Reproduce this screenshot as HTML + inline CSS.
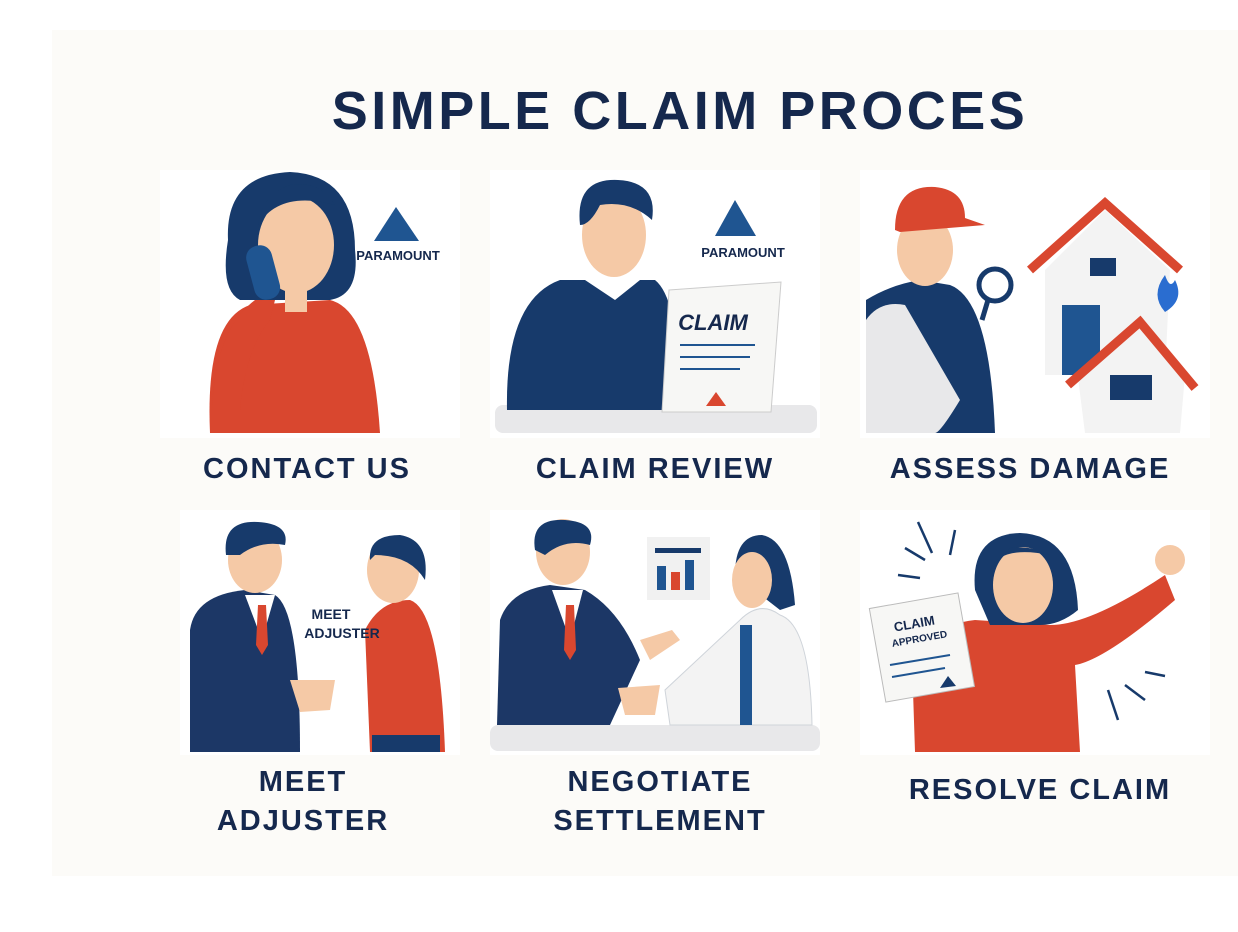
<!DOCTYPE html>
<html><head><style>
html,body{margin:0;padding:0;background:#fff;}
svg{display:block}
text{font-family:"Liberation Sans",sans-serif;font-weight:bold;fill:#15284d}
.l{letter-spacing:2px}
</style></head><body>
<svg width="1238" height="932" viewBox="0 0 1238 932" xmlns="http://www.w3.org/2000/svg">
<rect x="52" y="30" width="1186" height="846" fill="#fcfbf8"/>
<rect x="160" y="170" width="300" height="268" fill="#fff"/>
<rect x="490" y="170" width="330" height="268" fill="#fff"/>
<rect x="860" y="170" width="350" height="268" fill="#fff"/>
<rect x="180" y="510" width="280" height="245" fill="#fff"/>
<rect x="490" y="510" width="330" height="245" fill="#fff"/>
<rect x="860" y="510" width="350" height="245" fill="#fff"/>
<text x="680" y="129" font-size="54" text-anchor="middle" letter-spacing="3.5">SIMPLE CLAIM PROCES</text>

<!-- Panel 1 -->
<path d="M210 433 Q205 320 250 305 L330 300 Q372 310 380 433Z" fill="#d9472f"/>
<path d="M228 240 Q225 175 290 172 Q355 175 355 250 Q360 295 330 300 L240 300 Q220 290 228 240Z" fill="#173a6b"/>
<ellipse cx="296" cy="245" rx="38" ry="48" fill="#f5c9a6"/>
<path d="M258 225 Q280 190 335 205 Q320 180 290 185 Q262 195 258 225Z" fill="#173a6b"/>
<rect x="285" y="290" width="22" height="22" fill="#f5c9a6"/>
<rect x="250" y="245" width="26" height="55" rx="12" fill="#1f5591" transform="rotate(-15 263 272)"/>
<path d="M212 410 Q215 330 255 300 L275 300 L270 320 Q245 350 240 410Z" fill="#d9472f"/>
<polygon points="396,207 374,241 419,241" fill="#1f5591"/>
<text x="398" y="260" font-size="13" text-anchor="middle" font-weight="normal">PARAMOUNT</text>
<text x="307" y="478" font-size="29" text-anchor="middle" class="l">CONTACT US</text>

<!-- Panel 2 -->
<rect x="495" y="405" width="322" height="28" rx="8" fill="#e8e8ea"/>
<path d="M507 410 Q505 300 560 280 L655 280 Q680 300 680 410Z" fill="#173a6b"/>
<path d="M585 280 L615 300 L640 280Z" fill="#fff"/>
<ellipse cx="614" cy="235" rx="32" ry="42" fill="#f5c9a6"/>
<path d="M580 225 Q575 178 618 180 Q658 182 652 220 Q630 200 600 205 Q590 225 580 225Z" fill="#173a6b"/>
<polygon points="669,290 781,282 771,412 662,412" fill="#f7f7f5" stroke="#ccc"/>
<text x="713" y="330" font-size="22" text-anchor="middle" font-style="italic">CLAIM</text>
<line x1="680" y1="345" x2="755" y2="345" stroke="#1f5591" stroke-width="2"/>
<line x1="680" y1="357" x2="750" y2="357" stroke="#1f5591" stroke-width="2"/>
<line x1="680" y1="369" x2="740" y2="369" stroke="#1f5591" stroke-width="2"/>
<polygon points="716,392 706,406 726,406" fill="#d9472f"/>
<polygon points="735,200 715,236 756,236" fill="#1f5591"/>
<text x="743" y="257" font-size="13" text-anchor="middle" font-weight="normal">PARAMOUNT</text>
<text x="655" y="478" font-size="29" text-anchor="middle" class="l">CLAIM REVIEW</text>

<!-- Panel 3 -->
<path d="M866 433 L866 300 Q890 285 920 280 L950 285 Q990 300 995 433Z" fill="#173a6b"/>
<path d="M866 433 L866 320 Q880 300 905 305 L960 400 Q940 433 935 433Z" fill="#e8e8ea"/>
<ellipse cx="925" cy="250" rx="28" ry="36" fill="#f5c9a6"/>
<path d="M895 230 Q895 185 935 187 Q965 190 965 218 L985 225 L900 232Z" fill="#d9472f"/>
<circle cx="995" cy="285" r="16" fill="#fff" stroke="#173a6b" stroke-width="5"/>
<line x1="988" y1="300" x2="982" y2="320" stroke="#173a6b" stroke-width="5"/>
<path d="M1045 270 L1105 210 L1170 270 L1165 375 L1045 375Z" fill="#f3f3f3"/>
<path d="M1030 270 L1105 203 L1180 270" fill="none" stroke="#d9472f" stroke-width="9"/>
<rect x="1062" y="305" width="38" height="70" fill="#1f5591"/>
<rect x="1090" y="258" width="26" height="18" fill="#173a6b"/>
<path d="M1078 378 L1140 330 L1185 375 L1180 433 L1085 433Z" fill="#f3f3f3"/>
<path d="M1068 385 L1140 322 L1195 388" fill="none" stroke="#d9472f" stroke-width="9"/>
<rect x="1110" y="375" width="42" height="25" fill="#173a6b"/>
<path d="M1165 275 Q1150 295 1165 312 Q1185 300 1175 280 Q1170 290 1165 275Z" fill="#2a6dd0"/>
<text x="1030" y="478" font-size="29" text-anchor="middle" class="l">ASSESS DAMAGE</text>

<!-- Panel 4 -->
<path d="M190 752 L190 630 Q195 595 245 590 L275 595 Q300 610 300 752Z" fill="#1c3766"/>
<path d="M245 595 L262 640 L275 595Z" fill="#fff"/>
<polygon points="258,605 266,605 268,645 262,655 256,645" fill="#d9472f"/>
<ellipse cx="255" cy="560" rx="27" ry="33" fill="#f5c9a6"/>
<path d="M226 555 Q222 520 258 522 Q290 524 285 545 Q260 540 240 555Z" fill="#173a6b"/>
<path d="M370 752 L365 630 Q380 600 410 600 Q440 610 445 752Z" fill="#d9472f"/>
<rect x="372" y="735" width="68" height="17" fill="#173a6b"/>
<ellipse cx="393" cy="570" rx="26" ry="33" fill="#f5c9a6"/>
<path d="M370 560 Q368 535 400 535 Q430 540 425 580 Q410 555 375 555Z" fill="#173a6b"/>
<path d="M290 680 L335 680 L330 710 L300 712Z" fill="#f5c9a6"/>
<text x="331" y="619" font-size="14" text-anchor="middle">MEET</text>
<text x="342" y="638" font-size="14" text-anchor="middle">ADJUSTER</text>
<text x="303" y="791" font-size="29" text-anchor="middle" class="l">MEET</text>
<text x="303" y="830" font-size="29" text-anchor="middle" class="l">ADJUSTER</text>

<!-- Panel 5 -->
<rect x="490" y="725" width="330" height="26" rx="8" fill="#e8e8ea"/>
<path d="M497 725 L500 620 Q510 590 550 585 L585 590 Q620 610 640 660 L610 725Z" fill="#1c3766"/>
<path d="M552 590 L570 640 L583 590Z" fill="#fff"/>
<polygon points="566,605 574,605 576,650 570,660 564,650" fill="#d9472f"/>
<ellipse cx="563" cy="552" rx="27" ry="33" fill="#f5c9a6"/>
<path d="M535 550 Q530 518 565 520 Q597 522 590 545 Q565 538 545 555Z" fill="#173a6b"/>
<path d="M640 640 L672 630 L680 640 L650 660Z" fill="#f5c9a6"/>
<path d="M670 725 L665 690 L740 620 Q760 600 780 615 Q810 625 812 725Z" fill="#f3f3f3" stroke="#cfd4da"/>
<rect x="740" y="625" width="12" height="100" fill="#1f5591"/>
<path d="M735 575 Q735 535 762 535 Q790 540 795 605 L780 610 Z" fill="#173a6b"/>
<ellipse cx="752" cy="580" rx="20" ry="28" fill="#f5c9a6"/>
<path d="M618 688 L660 685 L655 715 L625 715Z" fill="#f5c9a6"/>
<rect x="647" y="537" width="63" height="63" fill="#f1f1f1"/>
<rect x="655" y="548" width="46" height="5" fill="#173a6b"/>
<rect x="657" y="566" width="9" height="24" fill="#1f5591"/>
<rect x="671" y="572" width="9" height="18" fill="#d9472f"/>
<rect x="685" y="560" width="9" height="30" fill="#1f5591"/>
<text x="660" y="791" font-size="29" text-anchor="middle" class="l">NEGOTIATE</text>
<text x="660" y="830" font-size="29" text-anchor="middle" class="l">SETTLEMENT</text>

<!-- Panel 6 -->
<path d="M915 752 L912 660 Q930 625 975 620 L1050 625 Q1090 625 1165 575 L1175 600 Q1105 660 1075 665 L1080 752Z" fill="#d9472f"/>
<path d="M975 590 Q970 535 1020 533 Q1075 535 1078 610 Q1060 625 1040 625 L990 625Z" fill="#173a6b"/>
<ellipse cx="1023" cy="585" rx="30" ry="38" fill="#f5c9a6"/>
<path d="M990 570 Q1000 545 1050 555 Q1030 545 1010 548 Z" fill="#173a6b"/>
<circle cx="1170" cy="560" r="15" fill="#f5c9a6"/>
<rect x="877" y="600" width="90" height="95" fill="#f7f7f5" stroke="#bbb" transform="rotate(-10 922 648)"/>
<text x="915" y="628" font-size="13" text-anchor="middle" transform="rotate(-10 915 628)">CLAIM</text>
<text x="920" y="642" font-size="10" text-anchor="middle" transform="rotate(-10 920 642)">APPROVED</text>
<line x1="890" y1="665" x2="950" y2="655" stroke="#1f5591" stroke-width="2"/>
<line x1="892" y1="677" x2="945" y2="668" stroke="#1f5591" stroke-width="2"/>
<polygon points="948,676 940,688 956,686" fill="#173a6b"/>
<g stroke="#173a6b" stroke-width="2.5">
<line x1="905" y1="548" x2="925" y2="560"/><line x1="918" y1="522" x2="932" y2="553"/>
<line x1="898" y1="575" x2="920" y2="578"/><line x1="955" y1="530" x2="950" y2="555"/>
<line x1="1145" y1="672" x2="1165" y2="676"/><line x1="1125" y1="685" x2="1145" y2="700"/>
<line x1="1108" y1="690" x2="1118" y2="720"/>
</g>
<text x="1040" y="799" font-size="29" text-anchor="middle" class="l">RESOLVE CLAIM</text>
</svg>
</body></html>
